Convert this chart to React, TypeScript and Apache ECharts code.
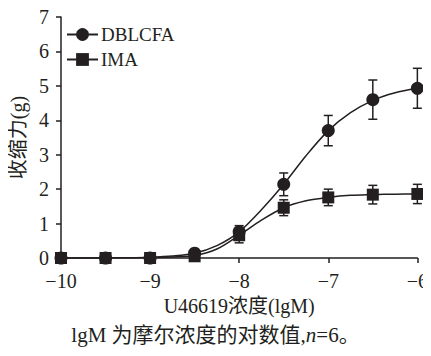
import React, { useEffect, useRef } from "react";
import * as echarts from "echarts";

// measured points (log M)
const doses = [-10, -9.5, -9, -8.5, -8, -7.5, -7, -6.5, -6];
const dblcfaMean = [0, 0, 0, 0.14, 0.76, 2.14, 3.7, 4.6, 4.93];
const dblcfaErr = [0, 0, 0, 0.04, 0.18, 0.33, 0.44, 0.57, 0.58];
const imaMean = [0, 0, 0, 0.05, 0.66, 1.46, 1.76, 1.84, 1.86];
const imaErr = [0, 0, 0, 0.03, 0.22, 0.23, 0.24, 0.27, 0.28];

// fitted curves
const fitX = [-10, -9.75, -9.5, -9.25, -9, -8.75, -8.5, -8.25, -8, -7.75, -7.5, -7.25, -7, -6.75, -6.5, -6.25, -6];
const dblcfaFit = [0, 0, 0.004, 0.01, 0.025, 0.06, 0.14, 0.36, 0.76, 1.4, 2.14, 2.97, 3.7, 4.22, 4.58, 4.8, 4.93];
const imaFit = [0, 0, 0.003, 0.007, 0.015, 0.03, 0.07, 0.26, 0.66, 1.1, 1.46, 1.66, 1.76, 1.82, 1.84, 1.855, 1.86];

const xTicks = [-10, -9, -8, -7, -6];

const FONT = "'Liberation Serif', 'Times New Roman', 'Noto Sans CJK SC', serif";
const INK = "#231f20";

function errData(mean: number[], err: number[]) {
  return doses.map((d, i) => [d, mean[i] - err[i], mean[i] + err[i]]);
}

function errRender(params: any, api: any) {
  const x = api.value(0);
  const lo = api.coord([x, api.value(1)]);
  const hi = api.coord([x, api.value(2)]);
  const w = 4.5;
  const style = { stroke: INK, lineWidth: 1.5 };
  if (Math.abs(hi[1] - lo[1]) < 1) return { type: "group", children: [] };
  return {
    type: "group",
    children: [
      { type: "line", shape: { x1: lo[0], y1: lo[1], x2: hi[0], y2: hi[1] }, style },
      { type: "line", shape: { x1: lo[0] - w, y1: lo[1], x2: lo[0] + w, y2: lo[1] }, style },
      { type: "line", shape: { x1: hi[0] - w, y1: hi[1], x2: hi[0] + w, y2: hi[1] }, style },
    ],
  };
}

export default function App() {
  const ref = useRef<HTMLDivElement>(null);
  useEffect(() => {
    if (!ref.current) return;
    const chart = echarts.init(ref.current, undefined, { renderer: "svg" });
    chart.setOption({
      animation: false,
      backgroundColor: "#ffffff",
      textStyle: { fontFamily: FONT, color: INK },
      grid: { left: 61, right: 9, top: 17, bottom: 98 },
      title: {
        text: "lgM 为摩尔浓度的对数值,{i|n}=6。",
        left: "center",
        top: 319,
        textStyle: {
          fontFamily: FONT,
          fontSize: 21,
          fontWeight: "normal",
          color: INK,
          rich: { i: { fontStyle: "italic", fontSize: 21, fontFamily: FONT, color: INK } },
        },
      },
      legend: {
        left: 61,
        top: 20,
        orient: "vertical",
        itemGap: 6,
        itemWidth: 31,
        itemHeight: 16,
        textStyle: { fontFamily: FONT, fontSize: 19, color: INK, padding: [0, 0, 0, -2] },
        data: ["DBLCFA", "IMA"],
      },
      xAxis: {
        type: "value",
        min: -10,
        max: -6,
        interval: 1,
        name: "U46619浓度(lgM)",
        nameLocation: "middle",
        nameGap: 34,
        nameTextStyle: { fontFamily: FONT, fontSize: 20, color: INK },
        axisLine: { show: true, onZero: false, lineStyle: { color: INK, width: 1.5 } },
        axisTick: { show: true, length: 5, lineStyle: { color: INK, width: 1.5 } },
        axisLabel: {
          fontFamily: FONT,
          fontSize: 20,
          color: INK,
          margin: 13,
          formatter: (v: number) => (xTicks.includes(v) ? String(v).replace("-", "\u2212") : ""),
        },
        splitLine: { show: false },
      },
      yAxis: {
        type: "value",
        min: 0,
        max: 7,
        interval: 1,
        name: "收缩力(g)",
        nameLocation: "middle",
        nameGap: 28,
        nameRotate: 90,
        nameTextStyle: { fontFamily: FONT, fontSize: 20, color: INK },
        axisLine: { show: true, lineStyle: { color: INK, width: 1.5 } },
        axisTick: { show: true, length: 5, lineStyle: { color: INK, width: 1.5 } },
        axisLabel: { fontFamily: FONT, fontSize: 20, color: INK, margin: 12 },
        splitLine: { show: false },
      },
      series: [
        {
          type: "line",
          name: "DBLCFA",
          data: fitX.map((d, i) => [d, dblcfaFit[i]]),
          smooth: 0.3,
          symbol: "circle",
          symbolSize: 13,
          showSymbol: false,
          itemStyle: { color: INK },
          lineStyle: { color: INK, width: 1.5 },
          z: 2,
          silent: true,
        },
        {
          type: "line",
          name: "IMA",
          data: fitX.map((d, i) => [d, imaFit[i]]),
          smooth: 0.3,
          symbol: "rect",
          symbolSize: 12,
          showSymbol: false,
          itemStyle: { color: INK },
          lineStyle: { color: INK, width: 1.5 },
          z: 2,
          silent: true,
        },
        {
          type: "custom",
          name: "errD",
          renderItem: errRender,
          data: errData(dblcfaMean, dblcfaErr),
          z: 1,
          silent: true,
        },
        {
          type: "custom",
          name: "errI",
          renderItem: errRender,
          data: errData(imaMean, imaErr),
          z: 1,
          silent: true,
        },
        {
          type: "scatter",
          name: "DBLCFA",
          data: doses.map((d, i) => [d, dblcfaMean[i]]),
          symbol: "circle",
          symbolSize: 13,
          itemStyle: { color: INK, opacity: 1 },
          z: 3,
        },
        {
          type: "scatter",
          name: "IMA",
          data: doses.map((d, i) => [d, imaMean[i]]),
          symbol: "rect",
          symbolSize: 12,
          itemStyle: { color: INK, opacity: 1 },
          z: 4,
        },
      ],
    });
    return () => chart.dispose();
  }, []);
  return <div ref={ref} style={{ width: 431, height: 356, margin: -8 }} />;
}
